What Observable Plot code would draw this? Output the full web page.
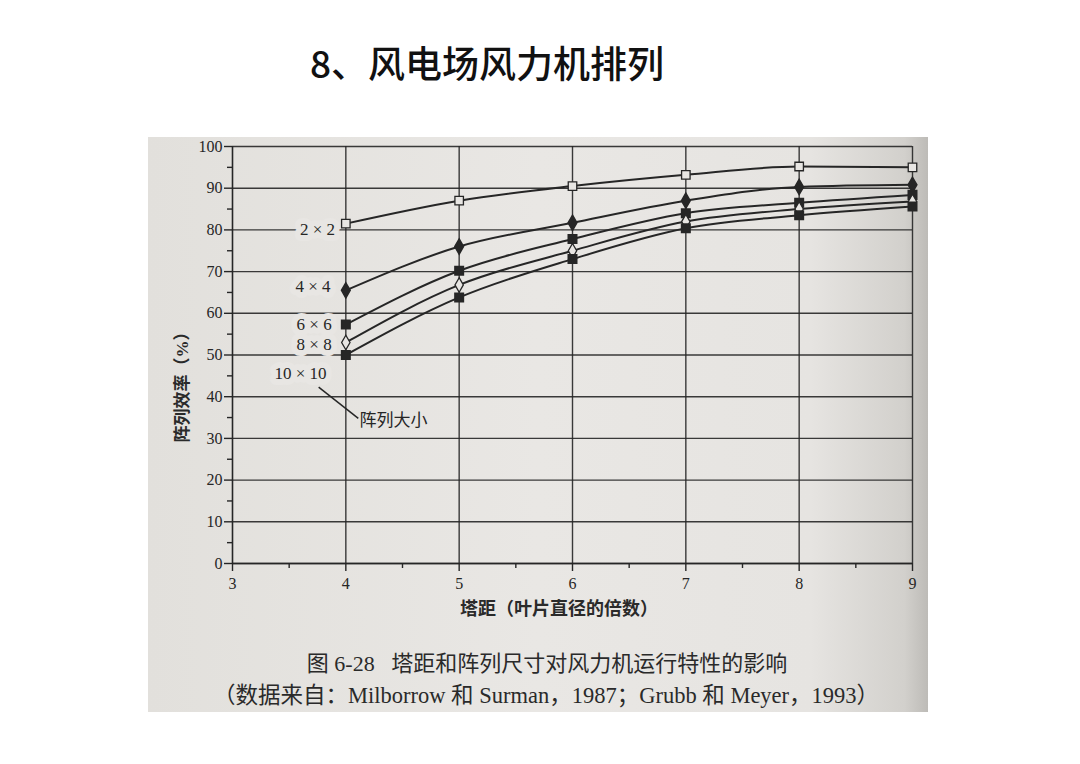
<!DOCTYPE html>
<html>
<head>
<meta charset="utf-8">
<script src="https://cdn.jsdelivr.net/npm/d3@7"></script>
<script src="https://cdn.jsdelivr.net/npm/@observablehq/plot@0.6"></script>
<style>
  html, body { margin: 0; padding: 0; background: #ffffff; }
  body { width: 1080px; height: 764px; position: relative; overflow: hidden; }
  #title { position: absolute; left: 0; width: 974px; top: 35px; text-align: center;
    font-family: "Noto Sans CJK SC", sans-serif; font-size: 37px; font-weight: 500; color: #111; }
  #paper { position: absolute; left: 148px; top: 137px; width: 780px; height: 575px;
    background: linear-gradient(90deg, #e2e0dc 0%, #e9e7e4 50%, #e6e4e1 85%, #d2d0cc 97%, #bdbbb7 100%); }
  #chart { position: absolute; left: 0; top: 0; }
  .lbl { position: absolute; font-family: "Liberation Serif", "Noto Sans CJK SC", serif; color: #2a2a2a; white-space: nowrap; }
  #ylab { left: 32px; top: 246px; transform: translate(-50%, -50%) rotate(-90deg); font-size: 17px; font-weight: bold; }
  #xlab { left: 411px; top: 470px; transform: translate(-50%, -50%); font-size: 18px; font-weight: bold; }
  #cap1 { left: 399px; top: 524px; transform: translate(-50%, -50%); font-size: 22px; }
  #cap2 { left: 398px; top: 556px; transform: translate(-50%, -50%); font-size: 22.5px; }
</style>
</head>
<body>
<div id="title">8、风电场风力机排列</div>
<div id="paper">
  <div id="chart"></div>
  <div class="lbl" id="ylab">阵列效率（%）</div>
  <div class="lbl" id="xlab">塔距（叶片直径的倍数）</div>
  <div class="lbl" id="cap1">图 6-28&nbsp;&nbsp;&nbsp;塔距和阵列尺寸对风力机运行特性的影响</div>
  <div class="lbl" id="cap2">（数据来自：Milborrow 和 Surman，1987；Grubb 和 Meyer，1993）</div>
</div>
<script>
// ---- data ----
const spacing = [4, 5, 6, 7, 8, 9];               // tower spacing (rotor diameters)
const eff2x2   = [81.5, 87.0, 90.5, 93.2, 95.2, 95.0];
const eff4x4   = [65.5, 76.0, 81.7, 87.0, 90.3, 90.8];
const eff6x6   = [57.3, 70.2, 77.8, 84.0, 86.5, 88.4];
const eff8x8   = [53.0, 66.8, 75.0, 82.0, 85.0, 86.8];
const eff10x10 = [50.0, 63.8, 73.0, 80.4, 83.5, 85.6];
const seriesNames = ["2×2", "4×4", "6×6", "8×8", "10×10"];
const yTicks = [0, 10, 20, 30, 40, 50, 60, 70, 80, 90, 100];
const yMinor = [5, 15, 25, 35, 45, 55, 65, 75, 85, 95];
const xTicks = [3, 4, 5, 6, 7, 8, 9];
const xMinor = [3.5, 4.5, 5.5, 6.5, 7.5, 8.5];
// series label annotations: [text, x, y]
const seriesLabels = [["2 × 2", 3.75, 80], ["4 × 4", 3.71, 66.3], ["6 × 6", 3.72, 57.3], ["8 × 8", 3.72, 52.6], ["10 × 10", 3.6, 45.6]];
const calloutText = "阵列大小";

const allSeries = [eff2x2, eff4x4, eff6x6, eff8x8, eff10x10];
const rows = [];
seriesNames.forEach((name, i) => spacing.forEach((x, j) => rows.push({series: name, x, y: allSeries[i][j]})));
const bySeries = n => rows.filter(d => d.series === n);
const paper = "#e8e6e3";
const ink = "#262626";
const serif = "'Liberation Serif', 'DejaVu Serif', serif";

const plot = Plot.plot({
  width: 780,
  height: 480,
  marginLeft: 84,
  marginRight: 16,
  marginTop: 9,
  marginBottom: 54,
  style: {background: "transparent", fontFamily: serif, color: ink},
  x: {domain: [3, 9]},
  y: {domain: [0, 100]},
  marks: [
    Plot.gridY(yTicks, {stroke: ink, strokeOpacity: 0.9, strokeWidth: 1.4}),
    Plot.gridX(spacing, {stroke: ink, strokeOpacity: 0.9, strokeWidth: 1.4}),
    Plot.ruleX([3], {stroke: ink, strokeWidth: 1.6}),
    Plot.ruleY([0], {stroke: ink, strokeWidth: 1.6}),
    Plot.axisY(yTicks, {tickSize: 8, tickPadding: 2, fontSize: 16, stroke: ink, strokeWidth: 1.4, label: null, fill: ink, tickFormat: d3.format("d")}),
    Plot.axisY(yMinor, {tickSize: 5, tickFormat: () => "", stroke: ink, strokeWidth: 1.4, label: null}),
    Plot.axisX(xTicks, {tickSize: 8, tickPadding: 6, fontSize: 16, stroke: ink, strokeWidth: 1.4, label: null, fill: ink, tickFormat: d3.format("d")}),
    Plot.axisX(xMinor, {tickSize: 5, tickFormat: () => "", stroke: ink, strokeWidth: 1.4, label: null}),
    Plot.line(rows, {x: "x", y: "y", z: "series", curve: "monotone-x", stroke: ink, strokeWidth: 2}),
    Plot.dot(bySeries("2×2"), {x: "x", y: "y", symbol: "square", r: 4.8, fill: paper, stroke: ink, strokeWidth: 1.3}),
    Plot.dot(bySeries("4×4"), {x: "x", y: "y", symbol: "diamond", r: 4.6, fill: ink, stroke: ink}),
    Plot.dot(bySeries("6×6"), {x: "x", y: "y", symbol: "square", r: 4.8, fill: ink, stroke: ink}),
    Plot.dot(bySeries("8×8"), {x: "x", y: "y", symbol: "diamond", r: 4.4, fill: paper, stroke: ink, strokeWidth: 1.3}),
    Plot.dot(bySeries("10×10"), {x: "x", y: "y", symbol: "square", r: 4.8, fill: ink, stroke: ink}),
    Plot.text(seriesLabels, {x: d => d[1], y: d => d[2], text: d => d[0], fontSize: 17, fill: ink,
      stroke: paper, strokeWidth: 12, strokeLinejoin: "round", paintOrder: "stroke"}),
    Plot.link([{x1: 3.76, y1: 42.3, x2: 4.11, y2: 34.8}], {x1: "x1", y1: "y1", x2: "x2", y2: "y2", stroke: ink, strokeWidth: 1.5}),
    Plot.text([calloutText], {x: 4.12, y: 34.2, text: d => d, textAnchor: "start", fontSize: 17, fill: ink,
      fontFamily: "'Noto Sans CJK SC', sans-serif"})
  ]
});
document.getElementById("chart").appendChild(plot);
</script>
</body>
</html>
